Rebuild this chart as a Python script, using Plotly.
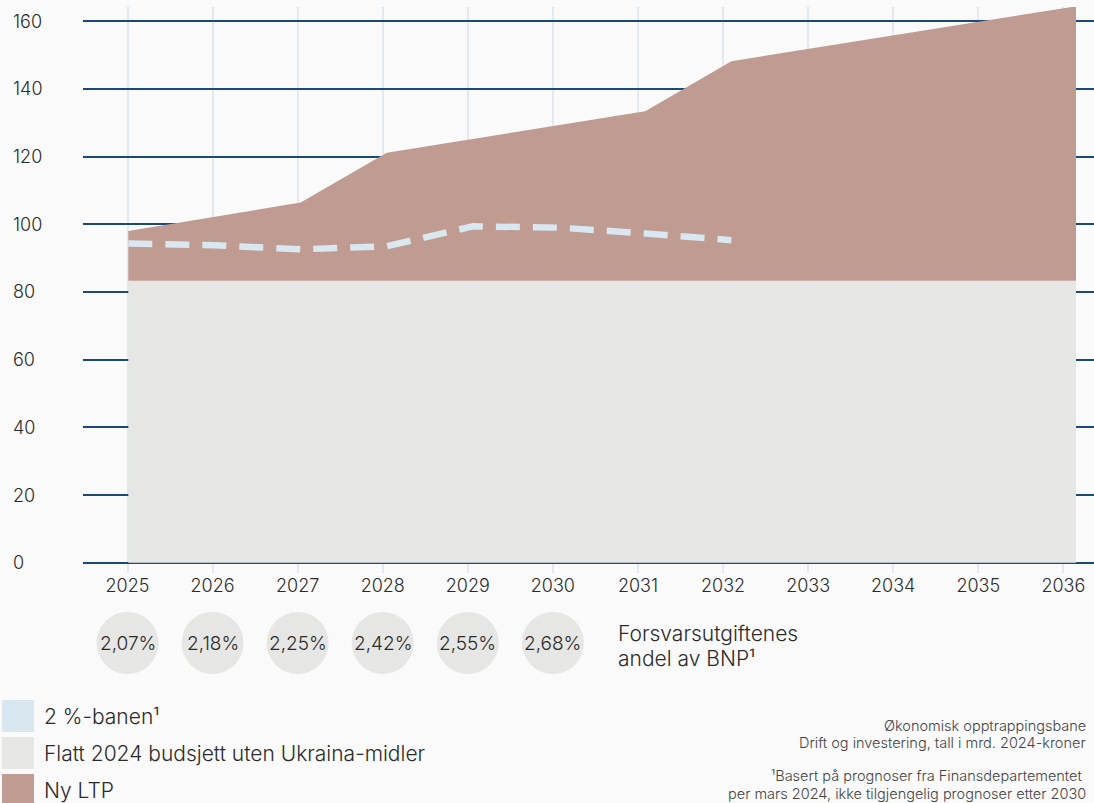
import plotly.graph_objects as go

# ---------------- data ----------------
years = [2025, 2026, 2027, 2028, 2029, 2030, 2031, 2032, 2033, 2034, 2035, 2036]
flatt_2024 = [83.3] * 12
ny_ltp = [98.0, 102.2, 106.4, 121.1, 125.2, 129.3, 133.4, 148.2, 152.2, 156.3, 160.3, 164.4]
two_pct_years = [2025, 2026, 2027, 2028, 2029, 2030, 2031, 2032]
two_pct = [94.3, 93.8, 92.6, 93.5, 99.4, 99.0, 97.3, 95.3]
bnp_years = [2025, 2026, 2027, 2028, 2029, 2030]
bnp_share = [2.07, 2.18, 2.25, 2.42, 2.55, 2.68]
y_ticks = [0, 20, 40, 60, 80, 100, 120, 140, 160]

legend_labels = ["2 %-banen¹", "Flatt 2024 budsjett uten Ukraina-midler", "Ny LTP"]
note_lines = ["Økonomisk opptrappingsbane",
              "Drift og investering, tall i mrd. 2024-kroner",
              "",
              "¹Basert på prognoser fra Finansdepartementet\u00a0",
              "per mars 2024, ikke tilgjengelig prognoser etter 2030"]
bnp_caption = ["Forsvarsutgiftenes", "andel av BNP¹"]

# ---------------- style ----------------
W, H = 1094, 803
ML, MR, MT, MB = 83, 0, 7, 230
BG = "#fafafa"
GREY = "#e6e6e4"
BROWN = "#bf9b91"
LBLUE = "#d9e7f1"
NAVY = "#1c4a78"
VGRID = "#e2e9f0"
TXT = "#2b2b2b"
FONT = "Inter"
WT = 300

PW = W - ML - MR
PH = H - MT - MB


def pxp(px):
    return (px - ML) / PW


def pyp(py):
    return (H - MB - py) / PH


def f(size, color=TXT):
    return dict(family=FONT, size=size, color=color, weight=WT)


fig = go.Figure()

fig.add_trace(go.Scatter(x=years, y=flatt_2024, mode="lines", line=dict(width=0),
                         fill="tozeroy", fillcolor=GREY, xaxis="x2",
                         name=legend_labels[1], showlegend=False, hoverinfo="skip"))
fig.add_trace(go.Scatter(x=years, y=ny_ltp, mode="lines", line=dict(width=0),
                         fill="tonexty", fillcolor=BROWN, xaxis="x2",
                         name=legend_labels[2], showlegend=False, hoverinfo="skip"))
fig.add_trace(go.Scatter(x=two_pct_years, y=two_pct, mode="lines",
                         line=dict(color=LBLUE, width=6.5, dash="24px,13px"),
                         xaxis="x2", name=legend_labels[0], showlegend=False,
                         hoverinfo="skip"))

shapes = []
annotations = []

# y tick labels (left aligned)
for v in y_ticks:
    annotations.append(dict(x=pxp(11), xref="paper", y=v, yref="y", text=str(v),
                            showarrow=False, xanchor="left", yanchor="middle",
                            font=f(18)))

# BNP circles
for yr, s in zip(bnp_years, bnp_share):
    shapes.append(dict(type="circle", xref="x", yref="paper", xsizemode="pixel",
                       ysizemode="pixel", xanchor=yr, yanchor=pyp(643),
                       x0=-31, x1=31, y0=-31, y1=31, fillcolor=GREY,
                       line=dict(width=0), layer="below"))
    annotations.append(dict(x=yr, xref="x", y=pyp(643), yref="paper",
                            text=f"{s:.2f}%".replace(".", ","), showarrow=False,
                            xanchor="center", yanchor="middle", font=f(19)))

for i, line in enumerate(bnp_caption):
    annotations.append(dict(x=pxp(616), xref="paper", y=pyp(633 + 25 * i), yref="paper",
                            text=line, showarrow=False, xanchor="left", yanchor="middle",
                            font=f(21)))

# legend
leg_colors = [LBLUE, GREY, BROWN]
for i, (lab, col) in enumerate(zip(legend_labels, leg_colors)):
    top = 700 + 37 * i
    shapes.append(dict(type="rect", xref="paper", yref="paper",
                       x0=pxp(2), x1=pxp(34), y0=pyp(top), y1=pyp(top + 32),
                       fillcolor=col, line=dict(width=0)))
    annotations.append(dict(x=pxp(42), xref="paper", y=pyp(top + 16), yref="paper",
                            text=lab, showarrow=False, xanchor="left", yanchor="middle",
                            font=f(21)))

# notes
for i, line in enumerate(note_lines):
    if not line:
        continue
    annotations.append(dict(x=pxp(1088), xref="paper", y=pyp(725 + 17 * i), yref="paper",
                            text=line, showarrow=False, xanchor="right", yanchor="middle",
                            font=f(14.5, "#444444")))

fig.update_layout(
    width=W, height=H,
    margin=dict(l=ML, r=MR, t=MT, b=MB, pad=0),
    paper_bgcolor=BG, plot_bgcolor=BG,
    showlegend=False,
    font=dict(family=FONT, color=TXT),
    xaxis=dict(range=[2024.477, 2036.36], tickvals=years, ticktext=[str(y) for y in years],
               showgrid=True, gridcolor=VGRID, gridwidth=1.5, zeroline=False,
               showline=False, ticks="", tickfont=f(18),
               fixedrange=True),
    xaxis2=dict(range=[2024.474, 2036.209], overlaying="x", visible=False,
                showgrid=False, zeroline=False),
    yaxis=dict(range=[-3.04, 164.2], tickvals=y_ticks, showticklabels=False,
               showgrid=True, gridcolor=NAVY, gridwidth=1.6, zeroline=False,
               showline=False, ticks=""),
    shapes=shapes,
    annotations=annotations,
)

fig.write_html("out.html", config={"displayModeBar": False},
               post_script="document.body.style.margin='0';document.body.style.background='#fafafa';")
